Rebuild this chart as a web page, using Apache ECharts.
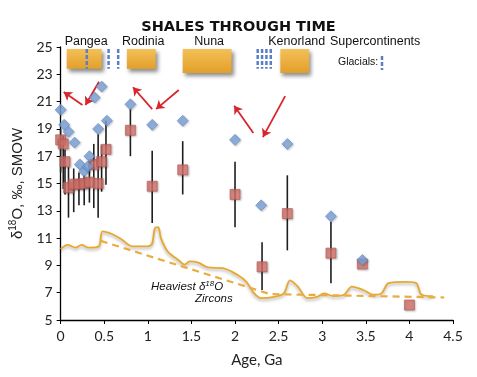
<!DOCTYPE html>
<html>
<head>
<meta charset="utf-8">
<script src="https://cdn.jsdelivr.net/npm/echarts@6/dist/echarts.min.js"></script>
<style>
html, body { margin: 0; padding: 0; background: #fff; }
#chart { width: 477px; height: 377px; }
</style>
</head>
<body>
<div id="chart"></div>
<script>
// shales: age (Ga), mean d18O and its spread
const shaleAge  = [0.00, 0.03, 0.05, 0.09, 0.15, 0.21, 0.27, 0.33, 0.38, 0.43, 0.47, 0.52, 0.80, 1.05, 1.40, 2.00, 2.31, 2.60, 3.10, 3.46, 4.00];
const shaleMean = [18.2, 17.9, 16.6, 14.7, 14.95, 14.95, 15.0, 15.1, 16.4, 15.0, 16.6, 17.5, 18.9, 14.8, 16.0, 14.2, 8.9, 12.8, 9.9, 9.1, 6.1];
const shaleLow  = [15.8, 14.6, 14.2, 12.5, 12.9, 13.4, 13.4, 13.6, 13.2, 12.5, 14.4, 14.9, 17.0, 12.1, 14.2, 11.8, 7.2, 10.1, 7.7, null, null];
const shaleHigh = [19.0, 18.5, 17.5, 16.2, 16.1, 15.8, 15.6, 16.6, 17.9, 18.6, 17.8, 19.6, 20.5, 17.4, 18.1, 16.6, 10.7, 15.6, 12.2, null, null];

// heaviest shale values
const heavyAge = [0.00, 0.04, 0.09, 0.16, 0.22, 0.27, 0.31, 0.33, 0.39, 0.43, 0.47, 0.53, 0.80, 1.05, 1.40, 2.00, 2.30, 2.60, 3.10, 3.46];
const heavyVal = [20.4, 19.3, 18.8, 18.0, 16.4, 15.9, 16.25, 17.0, 21.3, 19.0, 22.1, 19.6, 20.8, 19.3, 19.6, 18.2, 13.4, 17.9, 12.6, 9.4];

// heaviest zircons envelope
const zirconAge = [0.00, 0.08, 0.17, 0.24, 0.32, 0.44, 0.48, 0.59, 0.70, 0.82, 1.00, 1.05, 1.08, 1.12, 1.15, 1.23, 1.35, 1.42, 1.48, 1.58, 1.69, 1.86, 2.03, 2.13, 2.22, 2.30, 2.45, 2.56, 2.63, 2.72, 2.83, 2.94, 3.02, 3.13, 3.25, 3.34, 3.47, 3.59, 3.68, 3.76, 3.97, 4.08, 4.14, 4.27];
const zirconVal = [10.2, 10.5, 10.3, 10.5, 10.3, 10.4, 11.5, 11.3, 10.9, 10.4, 10.4, 10.6, 11.7, 11.8, 11.0, 10.0, 9.4, 9.05, 9.3, 9.2, 8.85, 8.8, 8.3, 7.8, 6.95, 6.6, 6.7, 6.95, 7.9, 7.45, 6.6, 6.7, 6.95, 6.75, 6.85, 7.45, 7.2, 6.85, 6.95, 7.7, 7.8, 7.7, 6.85, 6.75];
const trendAge = [0.46, 2.40, 4.40];
const trendVal = [10.8, 6.9, 6.65];

// supercontinents and glaciations
const continentNames  = ['Pangea', 'Rodinia', 'Nuna', 'Kenorland'];
const continentStart  = [0.07, 0.76, 1.40, 2.52];
const continentEnd    = [0.47, 1.09, 1.96, 2.85];
const continentBottom = [23.4, 23.4, 23.1, 23.1];
const continentTop    = 24.85;
const glacialAge = [0.30, 0.55, 0.66, 2.26, 2.31, 2.36, 2.41];

// red arrows: [fromAge, fromVal, toAge, toVal]
const arrows = [
  [0.25, 20.75, 0.035, 21.7],
  [0.44, 22.45, 0.285, 20.75],
  [1.05, 20.45, 0.83, 22.05],
  [1.355, 21.85, 1.095, 20.45],
  [2.21, 18.7, 1.99, 20.7],
  [2.575, 21.4, 2.32, 18.4]
];

const chart = echarts.init(document.getElementById('chart'));

const errData = shaleAge.map((a, i) => [a, shaleLow[i], shaleHigh[i]]).filter(d => d[1] != null);
const boxData = continentNames.map((n, i) => [continentStart[i], continentEnd[i], continentBottom[i], continentTop]);
const glacialData = glacialAge.map(a => [a, 23.4, continentTop]);

const option = {
  animation: false,
  title: {
    text: 'SHALES THROUGH TIME',
    left: 'center',
    top: 15,
    textStyle: { fontFamily: 'DejaVu Sans', fontWeight: 'bold', fontSize: 14.5, color: '#111' }
  },
  grid: { left: 58, right: 24, top: 47, bottom: 57 },
  xAxis: {
    type: 'value', min: 0, max: 4.5, interval: 0.5,
    name: 'Age, Ga', nameLocation: 'middle', nameGap: 33,
    nameTextStyle: { fontFamily: 'Lato', fontSize: 15, color: '#222' },
    axisLine: { lineStyle: { color: '#000', width: 1.3 } },
    axisTick: { length: 4, lineStyle: { color: '#000' } },
    axisLabel: { fontFamily: 'Lato', fontSize: 14, color: '#222', margin: 9 },
    splitLine: { show: false }
  },
  yAxis: {
    type: 'value', min: 5, max: 25, interval: 2,
    name: '{d|δ}{s|18}{d|O, ‰, SMOW}', nameLocation: 'middle', nameGap: 21,
    nameTextStyle: {
      color: '#222',
      rich: {
        d: { fontFamily: 'Liberation Sans', fontSize: 15, lineHeight: 20, color: '#222' },
        s: { fontFamily: 'Liberation Sans', fontSize: 10, lineHeight: 10, verticalAlign: 'top', color: '#222' }
      }
    },
    axisLine: { show: true, lineStyle: { color: '#000', width: 1.3 } },
    axisTick: { show: true, length: 4, lineStyle: { color: '#000' } },
    axisLabel: { fontFamily: 'Lato', fontSize: 14, color: '#222', margin: 8 },
    splitLine: { show: false }
  },
  graphic: [
    { type: 'text', left: 330, top: 35, style: { text: 'Supercontinents', font: '12.5px "Liberation Sans"', fill: '#111' } },
    { type: 'text', left: 338, top: 57, style: { text: 'Glacials:', font: '10.5px "Liberation Sans"', fill: '#111' } },
    { type: 'line', shape: { x1: 382, y1: 56, x2: 382, y2: 70 }, style: { stroke: '#5a7fc8', lineWidth: 2.5, lineDash: [4, 2] } },
    {
      type: 'text', left: 151, top: 280,
      style: {
        text: '{i|Heaviest δ}{s|18}{i|O}',
        rich: {
          i: { fontFamily: 'Liberation Sans', fontStyle: 'italic', fontSize: 11.5, lineHeight: 14, fill: '#111' },
          s: { fontFamily: 'Liberation Sans', fontStyle: 'italic', fontSize: 8, lineHeight: 8, verticalAlign: 'top', fill: '#111' }
        }
      }
    },
    { type: 'text', left: 195, top: 293, style: { text: 'Zircons', font: 'italic 11.5px "Liberation Sans"', fill: '#111' } }
  ],
  series: [
    {
      type: 'custom',
      name: 'boxes',
      z: 1,
      encode: { x: [0, 1], y: [2, 3] },
      data: boxData,
      renderItem: (params, api) => {
        const p0 = api.coord([api.value(0), api.value(3)]);
        const p1 = api.coord([api.value(1), api.value(2)]);
        return {
          type: 'group',
          children: [
            {
              type: 'rect',
              shape: { x: p0[0], y: p0[1], width: p1[0] - p0[0], height: p1[1] - p0[1] },
              style: {
                fill: new echarts.graphic.LinearGradient(0, 0, 0, 1, [
                  { offset: 0, color: '#f4c057' }, { offset: 1, color: '#e29f2a' }
                ]),
                shadowBlur: 4, shadowOffsetX: 2, shadowOffsetY: 3, shadowColor: 'rgba(0,0,0,0.45)'
              }
            },
            {
              type: 'text',
              style: {
                text: continentNames[params.dataIndex],
                x: (p0[0] + p1[0]) / 2 + 2, y: p0[1] - 1,
                align: 'center', verticalAlign: 'bottom',
                font: '12.5px "Liberation Sans"', fill: '#111'
              }
            }
          ]
        };
      }
    },
    {
      type: 'custom',
      name: 'glacials',
      z: 2,
      encode: { x: 0, y: [1, 2] },
      data: glacialData,
      renderItem: (params, api) => {
        const a = api.coord([api.value(0), api.value(2)]);
        const b = api.coord([api.value(0), api.value(1)]);
        return {
          type: 'line',
          shape: { x1: a[0], y1: a[1], x2: b[0], y2: b[1] },
          style: { stroke: '#5a7fc8', lineWidth: 2.5, lineDash: [4, 2] }
        };
      }
    },
    {
      type: 'line',
      name: 'zircons',
      data: zirconAge.map((a, i) => [a, zirconVal[i]]),
      smooth: 0.3,
      showSymbol: false,
      z: 3,
      lineStyle: { color: '#e8a82e', width: 1.8, shadowBlur: 3, shadowOffsetY: 2, shadowColor: 'rgba(0,0,0,0.3)' }
    },
    {
      type: 'line',
      name: 'trend',
      data: trendAge.map((a, i) => [a, trendVal[i]]),
      showSymbol: false,
      z: 3,
      lineStyle: { color: '#e9ac40', width: 2.2, type: [7, 5] },
      markLine: {
        silent: true,
        symbol: ['none', 'arrow'],
        symbolSize: 8,
        label: { show: false },
        lineStyle: { color: '#d8262c', width: 1.8, type: 'solid' },
        data: arrows.map(r => [{ coord: [r[0], r[1]] }, { coord: [r[2], r[3]] }])
      }
    },
    {
      type: 'custom',
      name: 'spread',
      z: 4,
      encode: { x: 0, y: [1, 2] },
      data: errData,
      renderItem: (params, api) => {
        const a = api.coord([api.value(0), api.value(2)]);
        const b = api.coord([api.value(0), api.value(1)]);
        return {
          type: 'line',
          shape: { x1: a[0], y1: a[1], x2: b[0], y2: b[1] },
          style: { stroke: '#1e1e1e', lineWidth: 1.6 }
        };
      }
    },
    {
      type: 'scatter',
      name: 'mean',
      z: 5,
      symbol: 'rect',
      symbolSize: 10,
      data: shaleAge.map((a, i) => [a, shaleMean[i]]),
      itemStyle: {
        color: '#d8746d', borderColor: '#b65650', borderWidth: 0.8,
        shadowBlur: 2, shadowOffsetX: 1, shadowOffsetY: 1, shadowColor: 'rgba(0,0,0,0.3)'
      }
    },
    {
      type: 'scatter',
      name: 'heaviest',
      z: 6,
      symbol: 'diamond',
      symbolSize: 11,
      data: heavyAge.map((a, i) => [a, heavyVal[i]]),
      itemStyle: {
        color: '#7ca4da', borderColor: '#5f87c4', borderWidth: 0.8,
        shadowBlur: 2, shadowOffsetX: 1, shadowOffsetY: 1, shadowColor: 'rgba(0,0,0,0.25)'
      }
    }
  ]
};

chart.setOption(option);
</script>
</body>
</html>
